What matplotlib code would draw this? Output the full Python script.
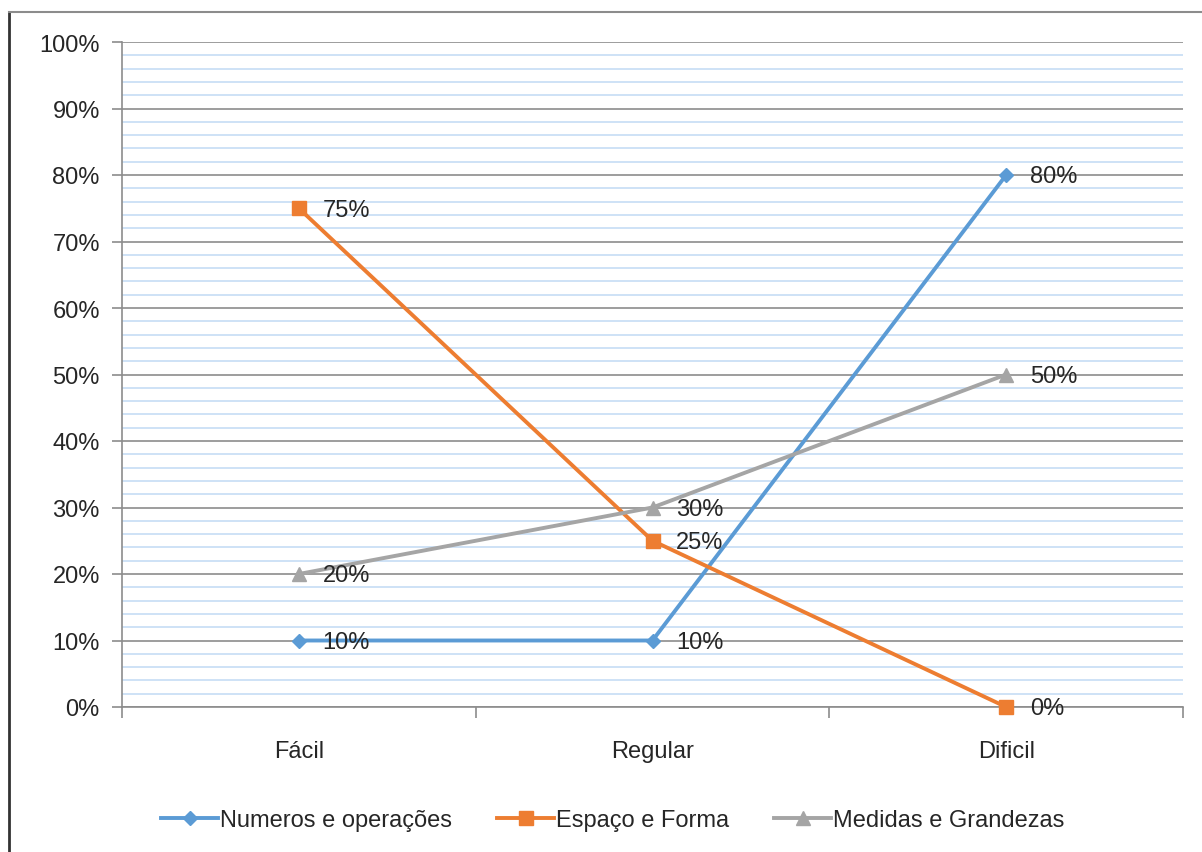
import matplotlib.pyplot as plt
from matplotlib.lines import Line2D
from matplotlib.ticker import MultipleLocator, FuncFormatter

plt.rcParams['font.family'] = ['Liberation Sans', 'DejaVu Sans']

categories = ['Fácil', 'Regular', 'Dificil']
numeros = [10, 10, 80]
espaco = [75, 25, 0]
medidas = [20, 30, 50]
series_names = ['Numeros e operações', 'Espaço e Forma', 'Medidas e Grandezas']

colors = ['#5B9BD5', '#ED7D31', '#A5A5A5']
markers = ['D', 's', '^']
msizes = [7, 9.5, 9.5]
text_color = '#262626'
fs = 17

W, H = 1202, 853
fig = plt.figure(figsize=(W / 100, H / 100), dpi=100)
ax = fig.add_axes([122 / W, 1 - 708 / H, (1183 - 122) / W, (708 - 43) / H])

x = list(range(len(categories)))
for vals, name, c, m, ms in zip([numeros, espaco, medidas], series_names, colors, markers, msizes):
    ax.plot(x, vals, color=c, lw=2.8, marker=m, ms=ms, label=name, zorder=3, clip_on=False)
    for xi, v in zip(x, vals):
        ax.annotate(f'{v}%', (xi, v), xytext=(17, -1), textcoords='offset points',
                    va='center', ha='left', fontsize=fs, color=text_color, zorder=4)

ax.set_xlim(-0.5, 2.5)
ax.set_ylim(0, 100)
ax.yaxis.set_major_locator(MultipleLocator(10))
ax.yaxis.set_minor_locator(MultipleLocator(2))
ax.yaxis.set_major_formatter(FuncFormatter(lambda v, p: f'{int(v)}%'))
ax.set_xticks(x)
ax.set_xticklabels(categories)
ax.set_xticks([-0.5, 0.5, 1.5, 2.5], minor=True)

ax.grid(which='minor', axis='y', color='#C6DDF5', lw=1.2)
ax.grid(which='major', axis='y', color='#8C8C8C', lw=1.2)
ax.set_axisbelow(True)

for s in ['top', 'right']:
    ax.spines[s].set_visible(False)
for s in ['left', 'bottom']:
    ax.spines[s].set_color('#8C8C8C')
    ax.spines[s].set_linewidth(1.2)

ax.tick_params(axis='y', which='major', length=7, width=1.2, color='#8C8C8C',
               labelsize=fs, labelcolor=text_color, pad=9)
ax.tick_params(axis='y', which='minor', length=0)
ax.tick_params(axis='x', which='major', length=0, labelsize=fs, labelcolor=text_color, pad=24)
ax.tick_params(axis='x', which='minor', length=8, width=1.2, color='#8C8C8C')

fig.legend(loc='center', bbox_to_anchor=(613 / W, 1 - 821 / H), ncol=3, frameon=False,
           fontsize=fs, handlelength=2.4, handletextpad=0.1, columnspacing=1.9,
           labelcolor=text_color)

# outer frame (left and top only)
fig.add_artist(Line2D([9 / W, 9 / W], [0, 1 - 13 / H], transform=fig.transFigure,
                      color='#333333', lw=2))
fig.add_artist(Line2D([9 / W, 1], [1 - 13 / H, 1 - 13 / H], transform=fig.transFigure,
                      color='#8C8C8C', lw=1.5))

fig.savefig('out.png', dpi=100)
